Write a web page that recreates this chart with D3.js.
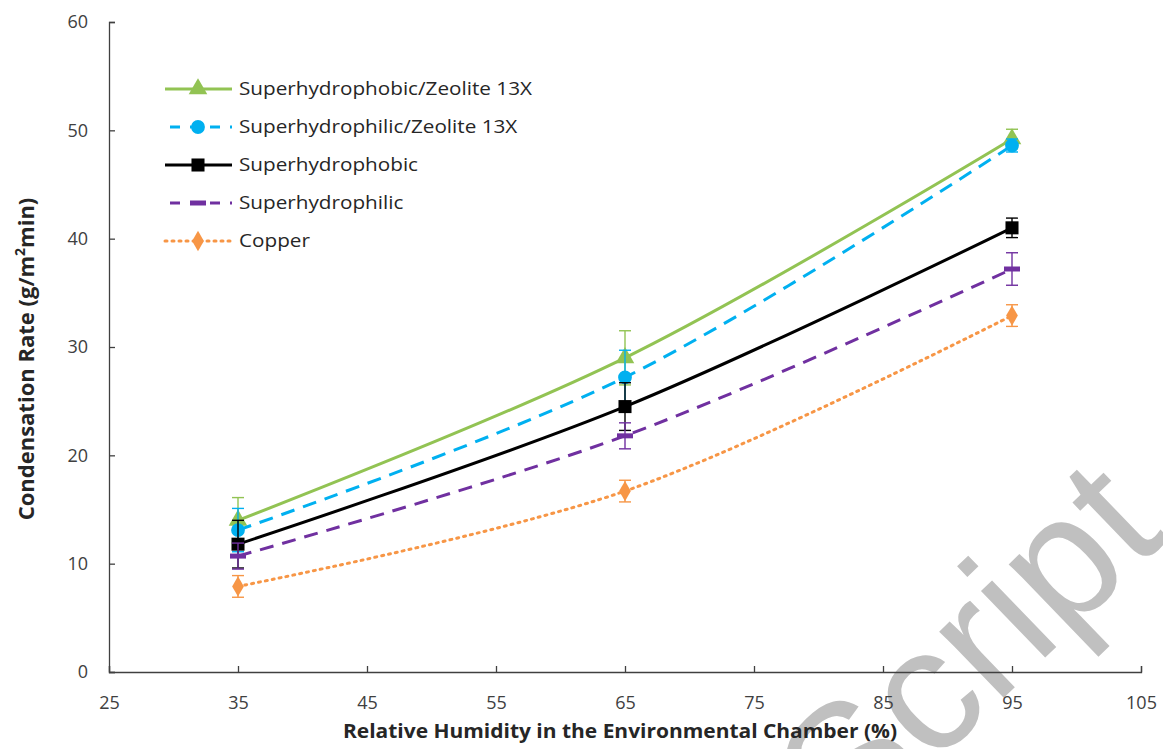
<!DOCTYPE html>
<html lang="en">
<head>
  <meta charset="UTF-8">
  <title>Condensation Rate</title>
  <style>
    body { margin: 0; background: #fff; }
    svg { display: block; font-family: "Open Sans", sans-serif; }
  </style>
</head>
<body>
  <div id="chart"></div>

  <script src="https://d3js.org/d3.v7.min.js"></script>
  <script>

    const width = 1163,
          height = 749,
          margin = {top: 22, right: 22, bottom: 77, left: 109};

    // relative humidity (%)
    const humidity = [35, 65, 95];
    const xTicks = [25, 35, 45, 55, 65, 75, 85, 95, 105];
    const yTicks = [0, 10, 20, 30, 40, 50, 60];

    const seriesNames = ["Superhydrophobic/Zeolite 13X", "Superhydrophilic/Zeolite 13X",
                         "Superhydrophobic", "Superhydrophilic", "Copper"];

    // condensation rate (g/m2min) and error
    const hphobZeolite = [14.0, 29.0, 49.2];
    const hphobZeoliteErr = [2.1, 2.5, 0.9];
    const hphilZeolite = [13.1, 27.2, 48.6];
    const hphilZeoliteErr = [2.0, 2.5, 0.6];
    const hphob = [11.8, 24.5, 41.0];
    const hphobErr = [2.2, 2.2, 0.9];
    const hphil = [10.7, 21.8, 37.2];
    const hphilErr = [1.2, 1.2, 1.5];
    const copper = [7.9, 16.7, 32.9];
    const copperErr = [1.0, 1.0, 1.0];

    const colors = ["#92c353", "#00b0f0", "#000000", "#7030a0", "#f79646"];
    const dashes = [null, "14,9", null, "14,9", "2,5"];
    const symbols = [d3.symbolTriangle, d3.symbolCircle, d3.symbolSquare, null, d3.symbolDiamond];
    const symSize = [150, 150, 170, 0, 120];

    const values = [hphobZeolite, hphilZeolite, hphob, hphil, copper];
    const errors = [hphobZeoliteErr, hphilZeoliteErr, hphobErr, hphilErr, copperErr];

    const series = seriesNames.map((name, i) => ({
      name: name,
      color: colors[i],
      dash: dashes[i],
      symbol: symbols[i],
      size: symSize[i],
      points: humidity.map((h, j) => ({x: h, y: values[i][j], e: errors[i][j]}))
    }));

    const svg = d3.select("#chart")
      .append("svg")
      .attr("width", width)
      .attr("height", height);

    const x = d3.scaleLinear([25, 105], [margin.left, width - margin.right]);
    const y = d3.scaleLinear([0, 60], [height - margin.bottom, margin.top]);

    // watermark
    svg.append("text")
      .attr("transform", "translate(848,848) rotate(-44)")
      .attr("font-family", "Liberation Sans, Arial, sans-serif")
      .attr("font-size", 175)
      .attr("fill", "#c0c0c0")
      .text("Script");

    // axes
    const xAxis = svg.append("g")
      .attr("transform", `translate(0,${y(0)})`)
      .call(d3.axisBottom(x).tickValues(xTicks).tickSizeInner(-6).tickSizeOuter(-6).tickPadding(24));

    const yAxis = svg.append("g")
      .attr("transform", `translate(${x(25)},0)`)
      .call(d3.axisLeft(y).tickValues(yTicks).tickSizeInner(-6).tickSizeOuter(-6).tickPadding(21));

    [xAxis, yAxis].forEach(g => {
      g.select(".domain").attr("stroke", "#404040").attr("stroke-width", 1.3);
      g.selectAll(".tick line").attr("stroke", "#404040").attr("stroke-width", 1.3);
      g.selectAll(".tick text").attr("font-size", 18).attr("fill", "#404040")
        .attr("font-family", "'Open Sans', sans-serif");
    });

    svg.append("text")
      .attr("x", 620)
      .attr("y", 738)
      .attr("text-anchor", "middle")
      .attr("font-size", 20)
      .attr("font-weight", "bold")
      .attr("fill", "#262626")
      .attr("textLength", 554)
      .attr("lengthAdjust", "spacingAndGlyphs")
      .text("Relative Humidity in the Environmental Chamber (%)");

    const yTitle = svg.append("text")
      .attr("transform", "translate(34,359) rotate(-90)")
      .attr("text-anchor", "middle")
      .attr("font-size", 22)
      .attr("font-weight", "bold")
      .attr("fill", "#262626");
    yTitle.append("tspan").text("Condensation Rate (g/m");
    yTitle.append("tspan").attr("font-size", 14).attr("dy", -9).text("2");
    yTitle.append("tspan").attr("dy", 9).text("min)");

    const line = d3.line()
      .x(d => x(d.x))
      .y(d => y(d.y))
      .curve(d3.curveCatmullRom.alpha(0.5));

    series.forEach(s => {
      const g = svg.append("g");

      // error bars
      const eb = g.selectAll(".err")
        .data(s.points)
        .join("g")
        .attr("stroke", s.color)
        .attr("stroke-width", 1.4);
      eb.append("line")
        .attr("x1", d => x(d.x)).attr("x2", d => x(d.x))
        .attr("y1", d => y(d.y - d.e)).attr("y2", d => y(d.y + d.e));
      eb.append("line")
        .attr("x1", d => x(d.x) - 6).attr("x2", d => x(d.x) + 6)
        .attr("y1", d => y(d.y + d.e)).attr("y2", d => y(d.y + d.e));
      eb.append("line")
        .attr("x1", d => x(d.x) - 6).attr("x2", d => x(d.x) + 6)
        .attr("y1", d => y(d.y - d.e)).attr("y2", d => y(d.y - d.e));

      g.append("path")
        .datum(s.points)
        .attr("fill", "none")
        .attr("stroke", s.color)
        .attr("stroke-width", 3)
        .attr("stroke-dasharray", s.dash)
        .attr("stroke-linecap", s.dash === "2,5" ? "round" : "butt")
        .attr("d", line);

      if (s.symbol) {
        g.selectAll(".mark")
          .data(s.points)
          .join("path")
          .attr("transform", d => `translate(${x(d.x)},${y(d.y)})`)
          .attr("d", d3.symbol(s.symbol, s.size))
          .attr("fill", s.color);
      } else {
        // dash marker for superhydrophilic
        g.selectAll(".mark")
          .data(s.points)
          .join("line")
          .attr("x1", d => x(d.x) - 8).attr("x2", d => x(d.x) + 8)
          .attr("y1", d => y(d.y)).attr("y2", d => y(d.y))
          .attr("stroke", s.color)
          .attr("stroke-width", 5);
      }
    });

    // legend
    const legend = svg.selectAll(".legend-group")
      .data(series)
      .join("g")
      .attr("class", "legend-group")
      .attr("transform", (d, i) => `translate(165,${89 + i * 38})`);

    legend.append("line")
      .attr("x1", 0).attr("x2", 67)
      .attr("stroke", d => d.color)
      .attr("stroke-width", 3)
      .attr("stroke-dasharray", d => d.dash === "2,5" ? "2,5" : (d.dash ? "10,10" : null))
      .attr("stroke-dashoffset", d => d.dash && d.dash !== "2,5" ? -5 : 0)
      .attr("stroke-linecap", d => d.dash === "2,5" ? "round" : "butt");

    legend.filter(d => d.symbol)
      .append("path")
      .attr("transform", "translate(33,0)")
      .attr("d", d => d3.symbol(d.symbol, d.size)())
      .attr("fill", d => d.color);

    legend.filter(d => !d.symbol)
      .append("line")
      .attr("x1", 25).attr("x2", 41)
      .attr("stroke", d => d.color)
      .attr("stroke-width", 5);

    legend.append("text")
      .attr("transform", "translate(74,6) scale(1.09,1)")
      .attr("font-size", 19)
      .attr("fill", "#262626")
      .text(d => d.name);

  </script>
</body>
</html>
